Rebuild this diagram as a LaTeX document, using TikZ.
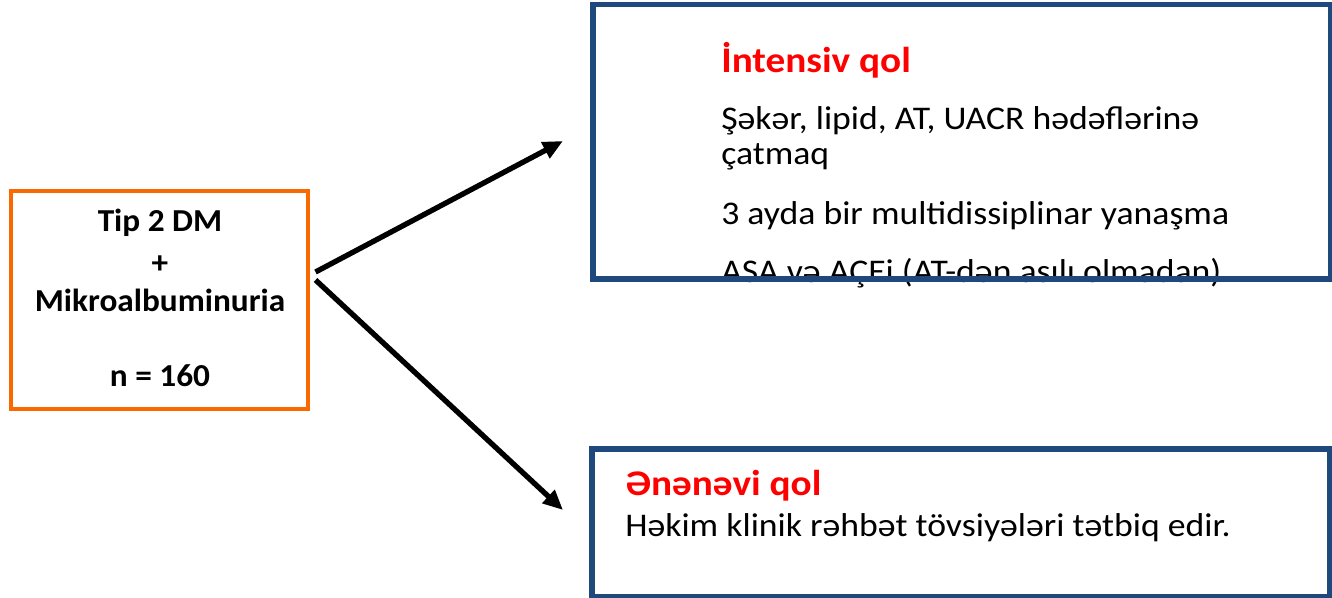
\documentclass[tikz,border=0pt]{standalone}
\usepackage{fontspec}
\setmainfont{Carlito}
\newfontfamily\srcfont{Carlito}[FakeStretch=1.04]
\newfontfamily\titlefont{Carlito}[FakeStretch=1.09]
\newfontfamily\bodyfont{Carlito}[FakeStretch=1.08]
\usetikzlibrary{arrows.meta}
\definecolor{srcorange}{RGB}{250,104,0}
\definecolor{armblue}{RGB}{31,73,125}
\definecolor{titlered}{RGB}{255,0,0}
\tikzset{
  srcbox/.style={draw=srcorange, line width=2.3pt, inner sep=0pt, fill=none,
    minimum width=222.75pt, minimum height=163.5pt},
  armbox/.style={draw=armblue, line width=4.2pt, inner sep=0pt, fill=none,
    minimum width=553.5pt},
  srctext/.style={font=\srcfont\fontsize{24pt}{29pt}\selectfont\bfseries, anchor=base, inner sep=0pt},
  armtitle/.style={font=\titlefont\fontsize{27pt}{32pt}\selectfont\bfseries, text=titlered, anchor=base west, inner sep=0pt},
  armtext/.style={font=\bodyfont\fontsize{24.8pt}{26.25pt}\selectfont, anchor=base west, inner sep=0pt, align=left},
  flow/.style={line width=4pt, -{Triangle[length=15pt,width=13pt]}},
}
\begin{document}
\begin{tikzpicture}[x=0.75pt, y=-0.75pt]
  \useasboundingbox (0,0) rectangle (1332,598);

  % study population
  \node[srcbox] (src) at (159.5,300) {};
  \node[srctext] (srcA) at (160,232) {Tip 2 DM};
  \node[srctext] (srcB) at (160,274) {+};
  \node[srctext] (srcC) at (160,312) {Mikroalbuminuria};
  \node[srctext] (srcD) at (160,387) {n = 160};

  % intensive arm: text first, frame drawn over it
  \node[armtitle] (intT) at (721,73) {İntensiv qol};
  % a multi-line node sits on the baseline of its last line
  \node[armtext] (int1) at (721,165) {Şəkər, lipid, AT, UACR hədəflərinə\\çatmaq};
  \node[armtext] (int2) at (721,225) {3 ayda bir multidissiplinar yanaşma};
  \node[armtext] (int3) at (721,283) {ASA və AÇEi (AT-dən asılı olmadan)};
  \node[armbox, minimum height=205.9pt] (intensive) at (962,141.75) {};

  % conventional arm
  \node[armtitle] (conT) at (625,496) {Ənənəvi qol};
  \node[armtext] (con1) at (625,537) {Həkim klinik rəhbət tövsiyələri tətbiq edir.};
  \node[armbox, minimum height=111pt] (conventional) at (961,523) {};

  % randomisation arrows
  \coordinate (s1) at ([xshift=4.5pt,yshift=21pt]src.east);
  \coordinate (s2) at ([xshift=4.5pt,yshift=15pt]src.east);
  \coordinate (e1) at (563,141);
  \coordinate (e2) at (563,510);
  \draw[flow] (s1) -- (e1);
  \draw[flow] (s2) -- (e2);
\end{tikzpicture}
\end{document}
